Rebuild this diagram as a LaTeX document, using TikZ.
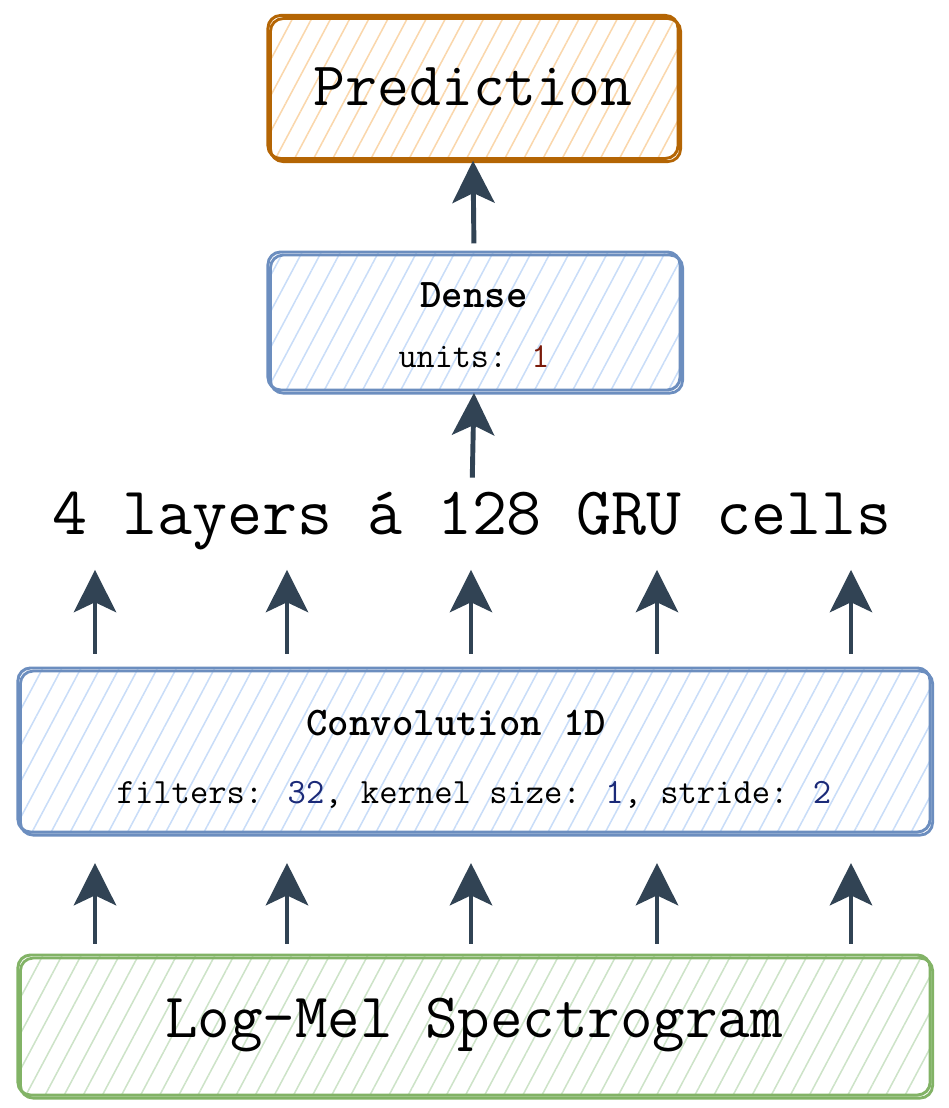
\documentclass[tikz,border=0pt]{standalone}
\usepackage{fontspec}
\usetikzlibrary{positioning,arrows.meta,patterns.meta}

\definecolor{predline}{HTML}{B46504}
\definecolor{predfill}{HTML}{FAD7AC}
\definecolor{blueline}{HTML}{6C8EBF}
\definecolor{bluefill}{HTML}{C9DDF8}
\definecolor{greenline}{HTML}{82B366}
\definecolor{greenfill}{HTML}{CDE3C8}
\definecolor{arrowc}{HTML}{314354}
\definecolor{numred}{HTML}{7A1A0A}
\definecolor{numblue}{HTML}{1B2A78}

\begin{document}
\begin{tikzpicture}[
    x=0.025cm, y=-0.025cm,
    every node/.style={font=\ttfamily, inner sep=0pt},
    box/.style={rounded corners=9pt, line width=2.1pt,
        pattern={Lines[angle=62, distance=12pt, line width=1.1pt]},
        postaction={draw, line width=2pt, transform canvas={shift={(1.8pt,-2.2pt)}}}},
    pred/.style={box, draw=predline, pattern color=predfill},
    layer/.style={box, draw=blueline, pattern color=bluefill},
    input/.style={box, draw=greenline, pattern color=greenfill},
    flow/.style={draw=arrowc, line width=3.5pt, -{Stealth[length=30pt, width=30pt, inset=7pt]}}
]
\useasboundingbox (0,0) rectangle (948,1108);

% boxes and labels
\node[pred, minimum width=10.25cm, minimum height=3.575cm, font=\ttfamily\fontsize{44}{47}\selectfont] (pred) at (473,87) {Prediction};
\node[layer, minimum width=10.3cm, minimum height=3.45cm, align=center] (dense) at (474,321)
    {{\bfseries\fontsize{29}{32}\selectfont\rule{0pt}{24pt}Dense}\\[26pt]{\fontsize{25}{28}\selectfont units: \textcolor{numred}{1}}};
\node[font=\ttfamily\fontsize{48.3}{51}\selectfont] (gru) at (472,521) {4 layers á 128 GRU cells};
\node[layer, minimum width=22.8cm, minimum height=4.1cm, align=center] (conv) at (474,750)
    {{\bfseries\fontsize{29}{32}\selectfont\rule{0pt}{31pt}Convolution 1D\hspace*{25pt}}\\[31.5pt]{\fontsize{25.3}{28}\selectfont filters: \textcolor{numblue}{32}, kernel size: \textcolor{numblue}{1}, stride: \textcolor{numblue}{2}}};
\node[input, minimum width=22.8cm, minimum height=3.5cm, font=\ttfamily\fontsize{44.9}{48}\selectfont] (mel) at (474,1025) {Log-Mel Spectrogram};

% arrows
\foreach \dx in {-379,-187,-3,183,377} {
    \draw[flow, shorten <=7pt, shorten >=21pt] ([xshift=\dx*0.025cm]mel.north) -- ([xshift=\dx*0.025cm]conv.south);
    \draw[flow, shorten <=9pt, shorten >=14pt] ([xshift=\dx*0.025cm]conv.north) -- ([xshift=\dx*0.025cm]conv.north |- gru.south);
}
\draw[flow, shorten <=10pt, shorten >=1pt] (gru.north) -- (dense.south);
\draw[flow, shorten <=5pt, shorten >=1pt] (dense.north) -- (pred.south);

\end{tikzpicture}
\end{document}
